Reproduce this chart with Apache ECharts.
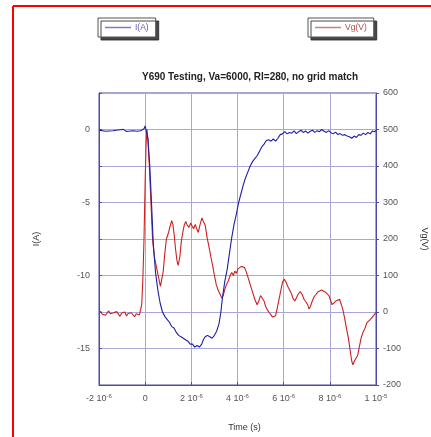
<!DOCTYPE html>
<html>
<head>
<meta charset="utf-8">
<script src="https://cdn.jsdelivr.net/npm/echarts@6/dist/echarts.min.js"></script>
<style>html,body{margin:0;padding:0;background:#fff;}#c{width:431px;height:437px;}</style>
</head>
<body>
<div id="c"></div>
<script>
// time in microseconds (axis labels show the seconds notation)
const xTicks = [-2, 0, 2, 4, 6, 8, 10];
const xTickLabels = {'-2': ['-2 10', '-6'], '0': ['0', ''], '2': ['2 10', '-6'], '4': ['4 10', '-6'], '6': ['6 10', '-6'], '8': ['8 10', '-6'], '10': ['1 10', '-5']};
const leftTicks = [-15, -10, -5, 0];
const rightTicks = [-200, -100, 0, 100, 200, 300, 400, 500, 600];

const currentI = [
[-2.0,-0.05],[-1.92,0.02],[-1.85,-0.08],[-1.77,-0.02],[-1.7,-0.12],[-1.62,-0.04],[-1.55,-0.1],[-1.47,0.0],[-1.4,-0.09],[-1.32,-0.15],
[-1.25,-0.05],[-1.17,-0.12],[-1.1,-0.02],[-1.02,-0.1],[-0.95,0.01],[-0.87,-0.08],[-0.8,-0.14],[-0.72,-0.05],[-0.65,-0.1],[-0.57,0.0],
[-0.5,-0.09],[-0.42,-0.04],[-0.35,-0.12],[-0.27,-0.02],[-0.2,-0.08],[-0.12,0.02],[-0.05,0.05],[0.0,0.25],[0.06,0.2],[0.12,-0.6],
[0.2,-2.5],[0.28,-5.2],[0.35,-7.8],[0.45,-9.8],[0.55,-11.0],[0.65,-11.9],[0.75,-12.5],[0.85,-12.8],[0.95,-13.0],[1.05,-13.2],
[1.15,-13.5],[1.25,-13.6],[1.35,-13.9],[1.45,-14.1],[1.55,-14.2],[1.65,-14.3],[1.75,-14.4],[1.85,-14.5],[1.95,-14.7],[2.05,-14.7],
[2.15,-14.9],[2.25,-14.8],[2.35,-14.9],[2.45,-14.7],[2.52,-14.4],[2.6,-14.2],[2.7,-14.1],[2.8,-14.2],[2.9,-14.3],[3.0,-14.1],
[3.1,-13.8],[3.2,-13.3],[3.28,-12.5],[3.35,-11.5],[3.45,-10.4],[3.55,-9.6],[3.65,-8.5],[3.75,-7.4],[3.85,-6.5],[3.95,-5.8],
[4.05,-5.0],[4.15,-4.4],[4.25,-3.8],[4.35,-3.3],[4.45,-2.9],[4.55,-2.5],[4.65,-2.2],[4.75,-2.0],[4.85,-1.8],[4.95,-1.5],
[5.05,-1.2],[5.15,-1.0],[5.25,-0.75],[5.35,-0.7],[5.45,-0.8],[5.55,-0.65],[5.65,-0.8],[5.75,-0.6],[5.85,-0.35],[5.95,-0.3],
[6.05,-0.15],[6.15,-0.3],[6.25,-0.2],[6.35,-0.25],[6.45,-0.1],[6.55,-0.28],[6.65,-0.15],[6.75,-0.05],[6.85,-0.2],[6.95,-0.1],
[7.05,-0.25],[7.15,-0.12],[7.25,-0.05],[7.35,-0.2],[7.45,-0.08],[7.55,-0.15],[7.65,0.0],[7.75,-0.12],[7.85,-0.2],[7.95,-0.08],
[8.05,-0.22],[8.15,-0.3],[8.25,-0.18],[8.35,-0.35],[8.45,-0.28],[8.55,-0.4],[8.65,-0.35],[8.75,-0.45],[8.85,-0.5],[8.95,-0.6],
[9.05,-0.45],[9.15,-0.55],[9.25,-0.35],[9.35,-0.4],[9.45,-0.25],[9.55,-0.35],[9.65,-0.2],[9.75,-0.3],[9.85,-0.1],[9.95,-0.15],[10.0,-0.05]
];

const voltageVg = [
[-2.0,-4],[-1.93,2],[-1.86,-6],[-1.79,-1],[-1.72,-9],[-1.65,-3],[-1.58,3],[-1.51,-5],[-1.44,-10],[-1.37,-2],
[-1.3,-7],[-1.23,1],[-1.16,-6],[-1.09,-12],[-1.02,-3],[-0.95,-8],[-0.88,0],[-0.81,-11],[-0.74,-4],[-0.67,-9],
[-0.6,-2],[-0.53,-7],[-0.46,-13],[-0.39,-5],[-0.32,-2],[-0.25,-8],[-0.2,-3],[-0.15,20],[-0.1,90],[-0.05,200],
[0.0,360],[0.04,460],[0.08,500],[0.12,470],[0.18,400],[0.25,300],[0.32,200],[0.4,150],[0.5,120],[0.58,95],
[0.66,70],[0.72,75],[0.78,110],[0.85,160],[0.92,200],[1.0,215],[1.08,235],[1.15,250],[1.2,240],[1.26,210],
[1.32,170],[1.38,140],[1.43,128],[1.5,150],[1.56,190],[1.62,215],[1.7,240],[1.76,248],[1.82,238],[1.9,232],
[1.97,244],[2.03,236],[2.1,228],[2.17,240],[2.22,230],[2.3,218],[2.38,240],[2.46,258],[2.52,248],[2.6,238],
[2.68,205],[2.76,180],[2.85,150],[2.93,125],[3.0,100],[3.08,75],[3.16,60],[3.25,48],[3.32,38],[3.38,45],
[3.45,62],[3.52,75],[3.6,85],[3.68,100],[3.75,108],[3.82,100],[3.88,112],[3.95,106],[4.02,118],[4.1,115],
[4.17,125],[4.24,130],[4.3,122],[4.38,110],[4.45,96],[4.55,75],[4.65,55],[4.75,35],[4.85,20],[4.92,30],
[5.0,45],[5.08,48],[5.15,30],[5.22,15],[5.3,5],[5.38,-2],[5.45,-8],[5.52,-14],[5.58,-18],[5.65,-10],
[5.72,10],[5.8,35],[5.88,60],[5.95,82],[6.02,90],[6.1,82],[6.18,70],[6.26,65],[6.34,50],[6.4,38],
[6.48,30],[6.56,40],[6.64,50],[6.72,56],[6.8,48],[6.88,35],[6.96,28],[7.04,20],[7.1,8],[7.16,15],
[7.24,30],[7.32,42],[7.4,48],[7.48,55],[7.56,52],[7.64,60],[7.72,57],[7.8,55],[7.88,50],[7.96,45],
[8.04,30],[8.1,20],[8.18,22],[8.26,30],[8.34,28],[8.42,35],[8.5,20],[8.57,5],[8.65,-20],[8.72,-45],
[8.8,-70],[8.88,-105],[8.95,-135],[9.0,-145],[9.06,-135],[9.12,-128],[9.2,-120],[9.28,-95],[9.36,-70],[9.44,-55],
[9.52,-45],[9.6,-30],[9.68,-28],[9.76,-20],[9.84,-15],[9.92,-8],[10.0,0]
];

const FONT = '"Liberation Sans", Arial, sans-serif';
const frameColor = '#4a4aa8';
const gridColor = '#a8a8d8';
const labelColor = '#555';

const chart = echarts.init(document.getElementById('c'), null, {renderer: 'canvas'});
chart.setOption({
  animation: false,
  backgroundColor: '#fff',
  textStyle: {fontFamily: FONT},
  title: {
    text: 'Y690 Testing, Va=6000, Rl=280, no grid match',
    left: 245, top: 67, textAlign: 'center',
    textStyle: {fontSize: 10, fontWeight: 'bold', color: '#222', fontFamily: FONT}
  },
  legend: [
    {
      data: [{name: 'I(A)', itemStyle: {color: '#7b7bc4'}, textStyle: {color: '#5a5ab0'}}],
      left: 98, top: 18, padding: [5, 7, 5, 7],
      icon: 'rect', itemWidth: 26, itemHeight: 1.5, itemGap: 4,
      backgroundColor: '#fff', borderColor: '#555', borderWidth: 1, borderRadius: 0,
      shadowColor: 'rgba(40,40,40,0.85)', shadowBlur: 0, shadowOffsetX: 3, shadowOffsetY: 3,
      textStyle: {fontSize: 8.5, fontFamily: FONT, padding: [0, 0, 0, -1]}
    },
    {
      data: [{name: 'Vg(V)', itemStyle: {color: '#c48080'}, textStyle: {color: '#b04a4a'}}],
      left: 308, top: 18, padding: [5, 7, 5, 7],
      icon: 'rect', itemWidth: 26, itemHeight: 1.5, itemGap: 4,
      backgroundColor: '#fff', borderColor: '#555', borderWidth: 1, borderRadius: 0,
      shadowColor: 'rgba(40,40,40,0.85)', shadowBlur: 0, shadowOffsetX: 3, shadowOffsetY: 3,
      textStyle: {fontSize: 8.5, fontFamily: FONT, padding: [0, 0, 0, -1]}
    }
  ],
  grid: {left: 99, right: 55, top: 93, bottom: 52, show: true, borderColor: frameColor, borderWidth: 1,
         backgroundColor: 'transparent', containLabel: false, outerBoundsMode: 'none'},
  xAxis: {
    type: 'value', min: -2, max: 10, interval: 2,
    name: 'Time (s)', nameLocation: 'middle', nameGap: 38,
    nameTextStyle: {fontSize: 9, color: '#333', fontFamily: FONT, padding: [0, 0, 0, 14]},
    axisLine: {show: true, onZero: false, lineStyle: {color: frameColor}},
    axisTick: {show: true, inside: true, length: 3, lineStyle: {color: frameColor}},
    splitLine: {show: true, lineStyle: {color: gridColor, width: 1}},
    axisLabel: {
      margin: 8, color: labelColor, fontSize: 9, fontFamily: FONT,
      formatter: function (v) {
        const key = String(Math.round(v));
        const p = xTickLabels[key];
        if (!p) return '';
        return p[1] ? '{b|' + p[0] + '}{s|' + p[1] + '}' : '{b|' + p[0] + '}';
      },
      rich: {
        b: {fontSize: 9, color: labelColor, fontFamily: FONT, lineHeight: 12},
        s: {fontSize: 6, color: labelColor, fontFamily: FONT, verticalAlign: 'top', lineHeight: 8, padding: [0, 0, 5, 0]}
      }
    }
  },
  yAxis: [
    {
      type: 'value', min: -17.5, max: 2.5, interval: 2.5, position: 'left',
      name: 'I(A)', nameLocation: 'middle', nameGap: 58, nameRotate: 90,
      nameTextStyle: {fontSize: 9, color: '#333', fontFamily: FONT},
      axisLine: {show: true, onZero: false, lineStyle: {color: frameColor}},
      axisTick: {show: true, inside: true, length: 3, lineStyle: {color: frameColor}},
      splitLine: {show: true, lineStyle: {color: gridColor, width: 1}},
      axisLabel: {
        margin: 9, color: labelColor, fontSize: 9, fontFamily: FONT,
        formatter: function (v) { const r = Math.round(v * 10) / 10; return leftTicks.indexOf(r) >= 0 ? String(r) : ''; }
      }
    },
    {
      type: 'value', min: -200, max: 600, interval: 100, position: 'right',
      name: 'Vg(V)', nameLocation: 'middle', nameGap: 44, nameRotate: -90,
      nameTextStyle: {fontSize: 9, color: '#333', fontFamily: FONT},
      axisLine: {show: true, onZero: false, lineStyle: {color: frameColor}},
      axisTick: {show: true, inside: false, length: 3, lineStyle: {color: frameColor}},
      splitLine: {show: false},
      axisLabel: {
        margin: 7, color: labelColor, fontSize: 9, fontFamily: FONT,
        formatter: function (v) { return rightTicks.indexOf(Math.round(v)) >= 0 ? String(Math.round(v)) : ''; }
      }
    }
  ],
  series: [
    {
      name: 'I(A)', type: 'line', yAxisIndex: 0, data: currentI, symbol: 'none',
      lineStyle: {color: '#1e1eaa', width: 1.1}, itemStyle: {color: '#1e1eaa'}, z: 3
    },
    {
      name: 'Vg(V)', type: 'line', yAxisIndex: 1, data: voltageVg, symbol: 'none',
      lineStyle: {color: '#cc2020', width: 1.1}, itemStyle: {color: '#cc2020'}, z: 2
    }
  ],
  graphic: [
    {type: 'line', shape: {x1: 13, y1: 6, x2: 431, y2: 6}, style: {stroke: '#ff0000', lineWidth: 2}, z: 100},
    {type: 'line', shape: {x1: 13, y1: 6, x2: 13, y2: 437}, style: {stroke: '#ff0000', lineWidth: 2}, z: 100}
  ]
});
</script>
</body>
</html>
